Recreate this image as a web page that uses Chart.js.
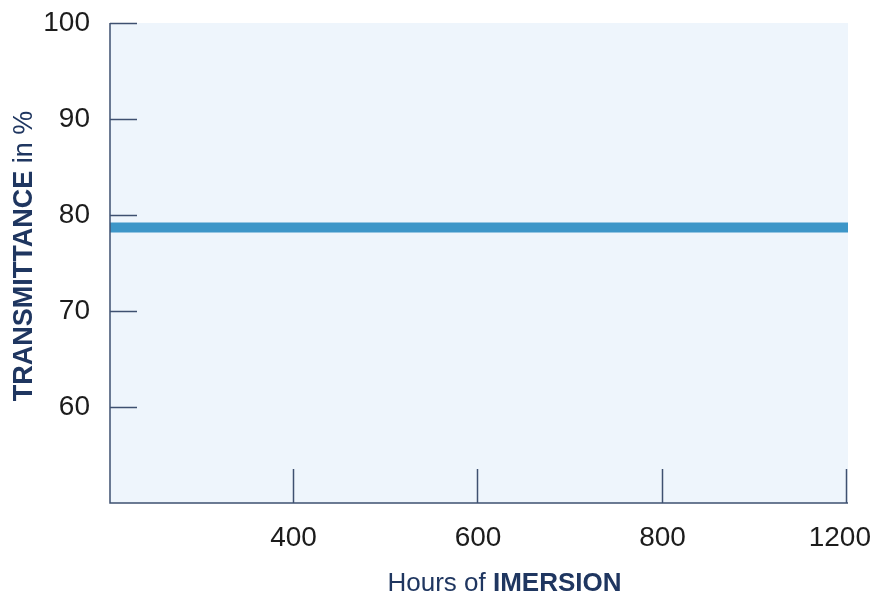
<!DOCTYPE html>
<html>
<head>
<meta charset="utf-8">
<script src="https://cdn.jsdelivr.net/npm/chart.js@4/dist/chart.umd.min.js"></script>
<style>
html,body{margin:0;padding:0;background:#fff;}
#wrap{width:876px;height:594px;}
</style>
</head>
<body>
<div id="wrap"><canvas id="c" width="876" height="594"></canvas></div>
<script>
const hourLabels = ['200', '400', '600', '800', '1200'];
const transmittance = [78.7, 78.7, 78.7, 78.7, 78.7];
const yTicks = [60, 70, 80, 90, 100];

const AXIS = '#3e5070';
const NAVY = '#1f3660';
const TEXT = '#1c1c1c';
const FONT = '"Liberation Sans", Arimo, Helvetica, Arial, sans-serif';

const bgPlugin = {
  id: 'bg',
  beforeDraw(chart) {
    const {ctx, chartArea: a} = chart;
    ctx.save();
    ctx.fillStyle = '#eef5fc';
    ctx.fillRect(a.left, a.top, a.right - a.left, a.bottom - a.top);
    ctx.restore();
  }
};

const ticksPlugin = {
  id: 'innerTicks',
  afterDatasetsDraw(chart) {
    const {ctx, chartArea: a, scales} = chart;
    ctx.save();
    ctx.strokeStyle = AXIS;
    ctx.lineWidth = 1.5;
    yTicks.forEach(v => {
      const y = Math.round(scales.y.getPixelForValue(v)) + 0.5;
      ctx.beginPath();
      ctx.moveTo(a.left, y);
      ctx.lineTo(a.left + 27, y);
      ctx.stroke();
    });
    hourLabels.forEach((l, i) => {
      if (i === 0) return;
      const x = Math.round(scales.x.getPixelForValue(i)) - 1.5;
      ctx.beginPath();
      ctx.moveTo(x, a.bottom);
      ctx.lineTo(x, a.bottom - 34);
      ctx.stroke();
    });
    ctx.beginPath();
    ctx.moveTo(a.left, a.top);
    ctx.lineTo(a.left, a.bottom);
    ctx.lineTo(a.right, a.bottom);
    ctx.stroke();
    ctx.restore();
  },
  afterDraw(chart) {
    const {ctx, scales, chartArea: a} = chart;
    ctx.save();
    // x tick labels
    ctx.fillStyle = TEXT;
    ctx.font = '28px ' + FONT;
    ctx.textAlign = 'center';
    ctx.textBaseline = 'middle';
    hourLabels.forEach((l, i) => {
      if (i === 0) return;
      const w = ctx.measureText(l).width;
      const x = Math.min(scales.x.getPixelForValue(i) - 1, chart.width - 5 - w / 2);
      ctx.fillText(l, x, 538);
    });
    ctx.textAlign = 'left';
    ctx.fillStyle = NAVY;
    ctx.textBaseline = 'alphabetic';
    const SZ = 26;
    const p1 = 'Hours of ', p2 = 'IMERSION';
    ctx.font = SZ + 'px ' + FONT;
    const w1 = ctx.measureText(p1).width;
    ctx.font = 'bold ' + SZ + 'px ' + FONT;
    const w2 = ctx.measureText(p2).width;
    const x0 = 504.5 - (w1 + w2) / 2;
    ctx.font = SZ + 'px ' + FONT;
    ctx.fillText(p1, x0, 591);
    ctx.font = 'bold ' + SZ + 'px ' + FONT;
    ctx.fillText(p2, x0 + w1, 591);
    const YS = 27;
    const q1 = 'TRANSMITTANCE', q2 = ' in %';
    ctx.translate(32, 256);
    ctx.rotate(-Math.PI / 2);
    ctx.font = 'bold ' + YS + 'px ' + FONT;
    const v1 = ctx.measureText(q1).width;
    ctx.font = YS + 'px ' + FONT;
    const v2 = ctx.measureText(q2).width;
    const s = -(v1 + v2) / 2;
    ctx.font = 'bold ' + YS + 'px ' + FONT;
    ctx.fillText(q1, s, 0);
    ctx.font = YS + 'px ' + FONT;
    ctx.fillText(q2, s + v1, 0);
    ctx.restore();
  }
};

new Chart(document.getElementById('c'), {
  type: 'line',
  data: {
    datasets: [{
      data: transmittance.map((v, i) => ({x: i, y: v})),
      borderColor: '#3d96c8',
      borderWidth: 10,
      pointRadius: 0,
      borderCapStyle: 'butt',
      tension: 0
    }]
  },
  options: {
    responsive: false,
    animation: false,
    devicePixelRatio: 1,
    layout: {padding: {left: 0, right: 28, top: 23, bottom: 0}},
    plugins: {legend: {display: false}, tooltip: {enabled: false}},
    scales: {
      x: {
        type: 'linear',
        min: 0,
        max: hourLabels.length - 1,
        grid: {display: false, drawTicks: false},
        border: {display: false},
        afterFit(s) { s.height = 91; s.paddingLeft = 0; s.paddingRight = 0; },
        afterBuildTicks(s) { s.ticks = hourLabels.map((l, i) => ({value: i})); },
        ticks: {display: false}
      },
      y: {
        min: 50,
        max: 100,
        grid: {display: false, drawTicks: false},
        border: {display: false},
        afterFit(s) { s.width = 110; s.paddingTop = 0; s.paddingBottom = 0; },
        afterBuildTicks(s) { s.ticks = yTicks.map(v => ({value: v})); },
        ticks: {
          padding: 20,
          color: TEXT,
          font: {family: FONT, size: 28}
        }
      }
    }
  },
  plugins: [bgPlugin, ticksPlugin]
});
</script>
</body>
</html>
